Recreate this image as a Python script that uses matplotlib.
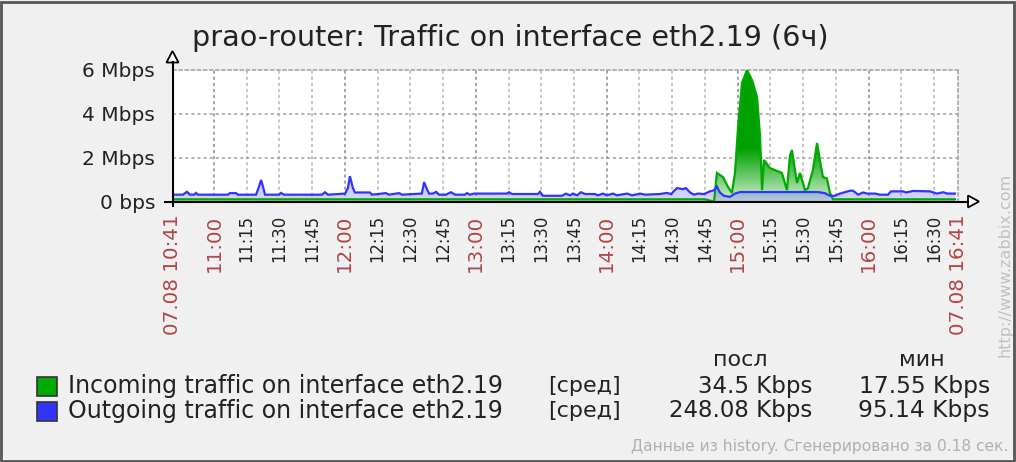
import matplotlib
matplotlib.use("Agg")
import matplotlib.pyplot as plt
import numpy as np
from matplotlib.patches import Rectangle, Polygon
from matplotlib.lines import Line2D

W, H = 1016, 462

title = "prao-router: Traffic on interface eth2.19 (6ч)"

tick_labels = ["07.08 10:41", "11:00", "11:15", "11:30", "11:45", "12:00", "12:15",
               "12:30", "12:45", "13:00", "13:15", "13:30", "13:45", "14:00", "14:15",
               "14:30", "14:45", "15:00", "15:15", "15:30", "15:45", "16:00", "16:15",
               "16:30", "07.08 16:41"]
y_ticks = [0, 2, 4, 6]
y_tick_labels = ["0 bps", "2 Mbps", "4 Mbps", "6 Mbps"]

# minutes since 10:41, values in Mbps
in_t = [0, 244.0, 246.3, 248.2, 249.5, 252.3, 254.6, 256.4, 257.8, 259.2, 261.0, 263.3,
        265.6, 267.9, 269.3, 270.2, 271.1, 273.8, 279.3, 281.6, 283.0, 283.9, 285.3,
        286.2, 287.6, 289.9, 291.2, 293.5, 295.4, 296.7, 298.1, 299.9, 301.3, 302.7, 358.6]
in_v = [0.1, 0.1, 0.04, 0.0, 1.30, 1.11, 0.66, 0.39, 1.30, 3.39, 5.39, 5.98,
        5.52, 4.75, 2.93, 0.52, 1.89, 1.52, 1.30, 0.52, 2.1, 2.34, 1.43,
        0.84, 1.30, 0.52, 0.6, 1.43, 2.66, 1.89, 1.11, 1.05, 0.39, 0.1, 0.1]

out_t = [0, 4.8, 6.6, 8.0, 9.9, 10.8, 11.7, 25.4, 26.4, 29.1, 30.0, 38.3, 39.6, 40.6, 41.5,
         42.4, 48.8, 49.7, 51.1, 68.5, 69.9, 71.3, 79.1, 80.4, 81.3, 82.7, 83.6, 90.5,
         91.4, 97.8, 99.2, 103.8, 105.2, 114.3, 115.3, 116.6, 117.6, 119.4, 120.8, 122.1,
         125.3, 127.6, 129.5, 134.0, 135.0, 136.3, 138.2, 153.3, 154.2, 155.6, 167.5,
         168.4, 169.8, 178.5, 180.3, 182.2, 183.5, 185.4, 187.2, 189.1, 193.6, 195.0,
         197.3, 199.1, 201.9, 203.7, 208.3, 210.6, 214.3, 216.5, 223.4, 226.6, 228.5,
         231.2, 234.0, 235.3, 237.2, 239.0, 240.8, 243.6, 246.3, 248.2, 249.5, 250.9,
         252.7, 255.5, 257.8, 260.1, 283.0, 295.8, 299.0, 301.3, 303.6, 305.9, 310.5,
         311.9, 314.2, 316.5, 318.3, 322.0, 324.2, 327.9, 329.3, 334.8, 336.2, 339.4,
         347.2, 350.4, 353.2, 355.0, 358.6]
out_v = [0.31, 0.31, 0.44, 0.31, 0.31, 0.39, 0.31, 0.31, 0.38, 0.38, 0.31, 0.31, 0.66, 0.98,
         0.66, 0.31, 0.31, 0.39, 0.31, 0.31, 0.42, 0.31, 0.36, 0.61, 1.15, 0.61, 0.41, 0.41,
         0.31, 0.38, 0.31, 0.38, 0.31, 0.36, 0.88, 0.56, 0.36, 0.36, 0.44, 0.31,
         0.31, 0.42, 0.31, 0.31, 0.38, 0.31, 0.36, 0.36, 0.42, 0.34, 0.34,
         0.44, 0.26, 0.26, 0.36, 0.28, 0.36, 0.28, 0.42, 0.34, 0.34, 0.28,
         0.36, 0.28, 0.36, 0.28, 0.36, 0.28, 0.36, 0.31, 0.34, 0.39, 0.34,
         0.61, 0.56, 0.61, 0.41, 0.31, 0.36, 0.34, 0.46, 0.51, 0.68, 0.41,
         0.26, 0.21, 0.36, 0.43, 0.43, 0.43, 0.38, 0.26, 0.26, 0.36, 0.49,
         0.49, 0.31, 0.41, 0.36, 0.36, 0.31, 0.31, 0.46, 0.46, 0.41, 0.48,
         0.46, 0.36, 0.42, 0.36, 0.36]

series_names = ["Incoming traffic on interface eth2.19", "Outgoing traffic on interface eth2.19"]
series_func = ["[сред]", "[сред]"]
series_last = ["34.5 Kbps", "248.08 Kbps"]
series_min = ["17.55 Kbps", "95.14 Kbps"]
col_headers = ["посл", "мин"]
footer = "Данные из history. Сгенерировано за 0.18 сек."
url = "http://www.zabbix.com"

GREEN = "#00aa00"
BLUE = "#3333ff"
RED = "#b04848"


def P(x, y):
    return (x / W, 1 - y / H)


fig = plt.figure(figsize=(W / 100, H / 100), dpi=100, facecolor="#f0f0f0")

ax_l, ax_r, ax_t, ax_b = 172.5, 958, 69.5, 201.5
ax = fig.add_axes([ax_l / W, 1 - ax_b / H, (ax_r - ax_l) / W, (ax_b - ax_t) / H])
ax.set_facecolor("white")

start = 10 * 60 + 41
tick_pos = [int(s[-5:-3]) * 60 + int(s[-2:]) - start for s in tick_labels]

# grid
for p, s in zip(tick_pos[1:-1], tick_labels[1:-1]):
    hour = s.endswith(":00")
    ax.axvline(p, color="#8c8c8c" if hour else "#b4b4b4", lw=1.1,
               ls=(0, (2, 2)), zorder=0.5)
for yv in y_ticks[1:-1]:
    ax.axhline(yv, color="#a0a0a0", lw=1.1, ls=(0, (2, 2)), zorder=0.5)

# incoming: gradient fill
poly = ax.fill_between(in_t, in_v, 0, facecolor="none", edgecolor="none")
yy = np.linspace(0, 6, 300)
f = np.clip(yy / 2.4, 0, 1) ** 0.9
light = np.array([0.86, 0.95, 0.86])
dark = np.array([0.0, 0.63, 0.0])
grad = np.ones((300, 1, 4))
grad[:, 0, :3] = light[None, :] * (1 - f)[:, None] + dark[None, :] * f[:, None]
im = ax.imshow(grad, extent=[0, 360, 0, 6], origin="lower", aspect="auto", zorder=1,
               interpolation="bilinear")
im.set_clip_path(poly.get_paths()[0], transform=ax.transData)

# outgoing fill
ax.fill_between(out_t, out_v, 0, color=BLUE, alpha=0.22, lw=0, zorder=2)

ax.plot(in_t, in_v, color=GREEN, lw=1.6, zorder=3, solid_joinstyle="miter")
ax.plot(out_t, out_v, color=BLUE, lw=1.6, zorder=4, solid_joinstyle="miter")

ax.set_xlim(0, 360)
ax.set_ylim(0, 6)

for sp in ["left", "bottom"]:
    ax.spines[sp].set_visible(False)
for sp in ["top", "right"]:
    ax.spines[sp].set_color("#a0a0a0")
    ax.spines[sp].set_linestyle((0, (2, 2)))
    ax.spines[sp].set_linewidth(1.1)

ax.set_yticks(y_ticks, y_tick_labels)
ax.tick_params(axis="y", length=0, pad=12.5, labelsize=14.5, labelcolor="#222222")
ax.set_xticks(tick_pos, tick_labels, rotation=90)
ax.tick_params(axis="x", length=0, pad=9.5)
for lbl in ax.get_xticklabels():
    t = lbl.get_text()
    if t.endswith(":00") or t.startswith("07.08"):
        lbl.set_color(RED)
        lbl.set_fontsize(14.3)
    else:
        lbl.set_color("#222222")
        lbl.set_fontsize(11.9)

# axes lines with arrows
fig.add_artist(Line2D([P(172.5, 206)[0], P(172.5, 62)[0]], [P(172.5, 206)[1], P(172.5, 62)[1]],
                      transform=fig.transFigure, color="black", lw=1.5))
fig.add_artist(Line2D([P(165, 201.5)[0], P(968, 201.5)[0]], [P(165, 201.5)[1], P(968, 201.5)[1]],
                      transform=fig.transFigure, color="black", lw=1.5))
fig.add_artist(Polygon([P(166.5, 62.5), P(178.5, 62.5), P(172.5, 51)], closed=True,
                       transform=fig.transFigure, facecolor="white", edgecolor="black", lw=1.3))
fig.add_artist(Polygon([P(968, 195.5), P(968, 207.5), P(979, 201.5)], closed=True,
                       transform=fig.transFigure, facecolor="white", edgecolor="black", lw=1.3))

# title
fig.text(*P(510, 38), title, ha="center", va="center", fontsize=20.6, color="#222222")

# legend
fig.text(*P(740, 360), col_headers[0], ha="center", va="center", fontsize=16, color="#222222")
fig.text(*P(922, 360), col_headers[1], ha="center", va="center", fontsize=16, color="#222222")
for i, (name, fn, last, mn, c) in enumerate(zip(series_names, series_func, series_last,
                                                  series_min, [GREEN, BLUE])):
    yc = 386 + 25 * i
    x0, y0 = P(37, yc + 9.5)
    fig.add_artist(Rectangle((x0, y0), 20 / W, 19 / H, transform=fig.transFigure,
                             facecolor=c, edgecolor="#333333", lw=1.2))
    fig.text(*P(68, yc), name, ha="left", va="center", fontsize=17, color="#222222")
    fig.text(*P(548, yc), fn, ha="left", va="center", fontsize=16, color="#222222")
    fig.text(*P(812, yc), last, ha="right", va="center", fontsize=16.5, color="#222222")
    fig.text(*P(990, yc), mn, ha="right", va="center", fontsize=16.8, color="#222222")

fig.text(*P(1008, 447), footer, ha="right", va="center", fontsize=11.2, color="#b0b0b0")
fig.text(*P(1005, 265), url, ha="center", va="center", rotation=90, fontsize=11.5,
         color="#c0c0c0")

# border
fig.add_artist(Rectangle((1 / W, 1 / H), (W - 3) / W, (H - 3) / H, transform=fig.transFigure,
                         facecolor="none", edgecolor="#555555", lw=2))

fig.savefig("out.png", dpi=100, facecolor=fig.get_facecolor())
